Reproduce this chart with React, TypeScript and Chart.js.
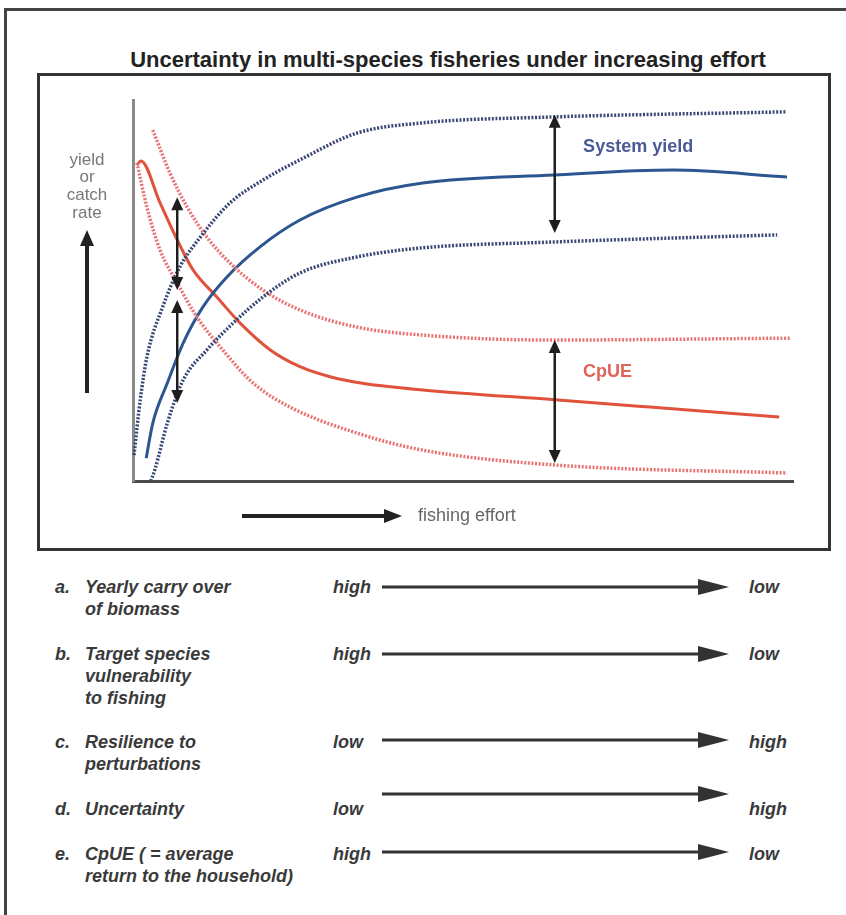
import React, { useEffect, useRef } from "react";
import { Chart, registerables } from "chart.js";

Chart.register(...registerables);

// ---------- data (x = fishing effort 0..100, y = yield / catch rate 0..100) ----------
const systemYield: [number, number][] = [
  [2.0, 6.0], [3.0, 15.2], [5.2, 25.7], [7.6, 36.2], [10.6, 45.7], [14.2, 53.5],
  [19.2, 61.4], [25.3, 68.5], [33.9, 74.5], [43.9, 78.2], [63.8, 80.3], [81.8, 81.6], [99.1, 79.8],
];
const yieldUpper: [number, number][] = [
  [0.15, 6.8], [1.1, 21.3], [2.1, 32.5], [4.5, 45.7], [7.1, 56.2], [10.2, 64.0],
  [14.7, 73.0], [19.7, 79.0], [25.3, 84.3], [33.9, 91.3], [43.9, 94.0], [62.7, 95.5], [99.1, 96.9],
];
const yieldLower: [number, number][] = [
  [2.7, 0], [3.3, 2.9], [5.2, 15.2], [7.6, 26.5], [11.2, 34.4], [15.2, 41.5],
  [19.7, 48.3], [25.3, 54.6], [33.9, 58.8], [43.9, 61.2], [63.2, 62.7], [97.6, 64.6],
];
const cpue: [number, number][] = [
  [0.6, 82.9], [1.2, 84.0], [4.1, 73.0], [6.7, 63.3], [9.1, 55.4], [12.7, 48.3], [16.2, 41.5],
  [20.8, 34.4], [25.3, 30.0], [30.0, 27.3], [35.0, 25.6], [43.9, 23.9], [63.9, 21.3], [78.3, 19.4], [97.9, 16.8],
];
const cpueUpper: [number, number][] = [
  [3.0, 92.1], [5.6, 80.8], [8.2, 71.9], [11.2, 64.0], [14.7, 57.2], [19.7, 50.1],
  [25.3, 44.9], [33.9, 40.4], [43.9, 38.3], [63.2, 37.0], [99.5, 37.5],
];
const cpueLower: [number, number][] = [
  [0.6, 83.5], [2.1, 71.9], [4.1, 60.6], [6.7, 52.0], [9.7, 43.0], [13.2, 35.2],
  [18.2, 25.7], [23.8, 19.4], [33.9, 12.6], [43.9, 8.1], [63.9, 4.2], [99.1, 2.1],
];
// double-headed range arrows: [x, yFrom, yTo]
const rangeArrows: [number, number, number][] = [
  [6.7, 74.5, 50.1],
  [6.7, 47.5, 20.5],
  [63.9, 96.1, 65.1],
  [63.9, 37.0, 4.7],
];
// in-chart labels: [text, x, y]
const seriesLabels: [string, number, number][] = [
  ["System yield", 68.2, 87.7],
  ["CpUE", 68.2, 28.6],
];
const yAxisLabel = ["yield", "or", "catch", "rate"];
const xAxisLabel = "fishing effort";
const chartTitle = "Uncertainty in multi-species fisheries under increasing effort";

// ---------- table ----------
const rowLetters = ["a.", "b.", "c.", "d.", "e."];
const rowLabels = [
  ["Yearly carry over", "of biomass"],
  ["Target species", "vulnerability", "to fishing"],
  ["Resilience to", "perturbations"],
  ["Uncertainty"],
  ["CpUE ( = average", "return to the household)"],
];
const rowFrom = ["high", "high", "low", "low", "high"];
const rowTo = ["low", "low", "high", "high", "low"];

// layout (pixels)
const rowTextY = [588, 655, 743, 810, 855];
const rowArrowY = [587, 654, 740, 794, 852];

const BLUE = "#2d5690";
const BLUE_DOT = "#3a4876";
const RED = "#e0523c";
const RED_DOT = "#e87373";

function arrowHead(ctx: CanvasRenderingContext2D, x: number, y: number, dx: number, dy: number, len: number, half: number) {
  const bx = x - dx * len;
  const by = y - dy * len;
  ctx.beginPath();
  ctx.moveTo(x, y);
  ctx.lineTo(bx - dy * half, by + dx * half);
  ctx.lineTo(bx + dy * half, by - dx * half);
  ctx.closePath();
  ctx.fill();
}

const annotations = {
  id: "annotations",
  afterDatasetsDraw(chart: any) {
    const { ctx, chartArea: ca, scales } = chart;
    const xs = scales.x;
    const ys = scales.y;
    ctx.save();
    // range arrows
    ctx.strokeStyle = "#1e1e1e";
    ctx.fillStyle = "#1e1e1e";
    ctx.lineWidth = 2.5;
    for (const [xv, a, b] of rangeArrows) {
      const px = xs.getPixelForValue(xv);
      const p1 = ys.getPixelForValue(a);
      const p2 = ys.getPixelForValue(b);
      ctx.beginPath();
      ctx.moveTo(px, p1 + 10);
      ctx.lineTo(px, p2 - 10);
      ctx.stroke();
      arrowHead(ctx, px, p1, 0, -1, 13, 6);
      arrowHead(ctx, px, p2, 0, 1, 13, 6);
    }
    // series labels
    ctx.font = "bold 18px 'Liberation Sans', Arial, sans-serif";
    ctx.textBaseline = "middle";
    ctx.textAlign = "left";
    seriesLabels.forEach(([t, xv, yv], i) => {
      ctx.fillStyle = i === 0 ? "#4a5a96" : "#e06258";
      ctx.fillText(t, xs.getPixelForValue(xv), ys.getPixelForValue(yv));
    });
    // y-axis label with arrow
    ctx.fillStyle = "#777";
    ctx.font = "17px 'Liberation Sans', Arial, sans-serif";
    ctx.textAlign = "center";
    const lx = ca.left - 46;
    yAxisLabel.forEach((t, i) => {
      ctx.fillText(t, lx, ca.top + 60 + i * 17.7);
    });
    ctx.strokeStyle = "#222";
    ctx.fillStyle = "#222";
    ctx.lineWidth = 4;
    ctx.beginPath();
    ctx.moveTo(lx, ca.top + 293);
    ctx.lineTo(lx, ca.top + 144);
    ctx.stroke();
    arrowHead(ctx, lx, ca.top + 130, 0, -1, 16, 7);
    // x-axis label with arrow
    const ay = ca.bottom + 35;
    ctx.beginPath();
    ctx.moveTo(ca.left + 109, ay);
    ctx.lineTo(ca.left + 255, ay);
    ctx.stroke();
    arrowHead(ctx, ca.left + 269, ay, 1, 0, 18, 7);
    ctx.fillStyle = "#666";
    ctx.font = "18px 'Liberation Sans', Arial, sans-serif";
    ctx.textAlign = "left";
    ctx.fillText(xAxisLabel, ca.left + 285, ay);
    ctx.restore();
  },
};

function line(data: [number, number][], color: string, dotted: boolean) {
  return {
    data: data.map(([x, y]) => ({ x, y })),
    borderColor: color,
    borderWidth: dotted ? 3.5 : 3,
    borderDash: dotted ? [2, 1.6] : [],
    borderCapStyle: "butt",
    pointRadius: 0,
    fill: false,
    cubicInterpolationMode: "monotone",
    clip: false,
  };
}

export default function App() {
  const ref = useRef<HTMLCanvasElement | null>(null);
  useEffect(() => {
    if (!ref.current) return;
    const chart = new Chart(ref.current, {
      type: "line",
      data: {
        datasets: [
          line(yieldUpper, BLUE_DOT, true),
          line(yieldLower, BLUE_DOT, true),
          line(cpueUpper, RED_DOT, true),
          line(cpueLower, RED_DOT, true),
          line(systemYield, BLUE, false),
          line(cpue, RED, false),
        ] as any,
      },
      options: {
        responsive: false,
        animation: false,
        layout: { padding: { left: 133, top: 100, right: 53, bottom: 79 } },
        plugins: { legend: { display: false }, tooltip: { enabled: false }, title: { display: false } },
        scales: {
          x: {
            type: "linear",
            min: 0,
            max: 100,
            grid: { display: false, drawTicks: false },
            ticks: { display: false },
            border: { display: true, color: "#4a4a4a", width: 3 },
          },
          y: {
            type: "linear",
            min: 0,
            max: 100,
            grid: { display: false, drawTicks: false },
            ticks: { display: false },
            border: { display: true, color: "#8a8a8a", width: 3 },
          },
        },
      },
      plugins: [annotations],
    });
    return () => chart.destroy();
  }, []);

  const tableFont = "italic bold 18px 'Liberation Sans', Arial, sans-serif";
  const txt = (text: string, left: number, cy: number, key: string) => (
    <div
      key={key}
      style={{ position: "absolute", left, top: cy - 11, lineHeight: "22px", height: 22, whiteSpace: "nowrap", font: tableFont, color: "#3a3a3a" }}
    >
      {text}
    </div>
  );

  return (
    <div style={{ position: "relative", width: 846, height: 915, overflow: "hidden", background: "#fff" }}>
      <style>{"body{margin:0}"}</style>
      {/* outer frame */}
      <div style={{ position: "absolute", left: 4, top: 8, width: 1000, height: 1000, borderTop: "3px solid #444", borderLeft: "3px solid #444" }} />
      {/* title */}
      <div
        style={{
          position: "absolute", left: 0, width: 896, top: 47, textAlign: "center", lineHeight: "26px",
          font: "bold 22px 'Liberation Sans', Arial, sans-serif", color: "#222",
        }}
      >
        {chartTitle}
      </div>
      {/* inner chart frame */}
      <div style={{ position: "absolute", left: 37, top: 73, width: 794, height: 478, border: "3px solid #333", boxSizing: "border-box" }} />
      <canvas ref={ref} width={846} height={560} style={{ position: "absolute", left: 0, top: 0, width: 846, height: 560 }} />
      {/* table */}
      {rowLetters.map((l, i) => (
        <React.Fragment key={"r" + i}>
          {txt(l, 55, rowTextY[i], "l" + i)}
          {rowLabels[i].map((t, j) => txt(t, 85, rowTextY[i] + j * 22, "t" + i + "_" + j))}
          {txt(rowFrom[i], 333, rowTextY[i], "f" + i)}
          {txt(rowTo[i], 749, rowTextY[i], "o" + i)}
        </React.Fragment>
      ))}
      <svg width={846} height={915} style={{ position: "absolute", left: 0, top: 0, pointerEvents: "none" }}>
        {rowArrowY.map((y, i) => (
          <g key={"a" + i}>
            <line x1={382} y1={y} x2={702} y2={y} stroke="#333" strokeWidth={3} />
            <polygon points={`698,${y - 8} 729,${y} 698,${y + 8}`} fill="#333" />
          </g>
        ))}
      </svg>
    </div>
  );
}
